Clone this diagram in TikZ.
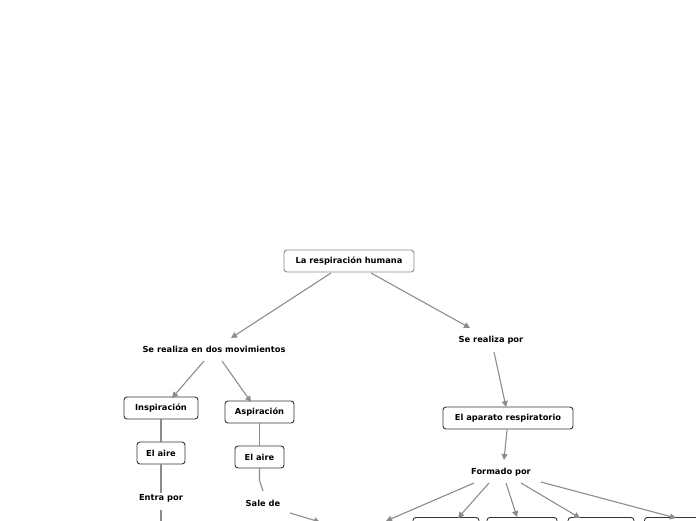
\documentclass[tikz,border=0pt]{standalone}
\usepackage{fontspec}
\setmainfont{DejaVu Sans}
\usetikzlibrary{arrows.meta}
\definecolor{conn}{HTML}{8C8C8C}
\definecolor{boxline}{HTML}{333333}
\tikzset{
  every node/.style={font=\bfseries\fontsize{8.3}{10}\selectfont, text=black},
  box/.style={draw=boxline, line width=0.9pt, rounded corners=3pt, fill=white, inner sep=0pt, minimum height=22pt},
  rootbox/.style={box, draw=conn},
  lbl/.style={inner sep=1pt},
  link/.style={draw=conn, line width=1.1pt},
  arr/.style={link, -{Triangle[length=6pt,width=6pt]}},
}
\begin{document}
\begin{tikzpicture}[x=1pt,y=-1pt]
\useasboundingbox (0,0) rectangle (696,520);
\clip (0,0) rectangle (696,520);
% nodes
\node[rootbox, minimum width=130pt] (root) at (349,261) {La respiración humana};
\node[lbl] (mov) at (214,349) {Se realiza en dos movimientos};
\node[lbl] (por) at (491,340) {Se realiza por};
\node[box, minimum width=74pt] (insp) at (161,408) {Inspiración};
\node[box, minimum width=69pt] (asp) at (259.5,412) {Aspiración};
\node[box, minimum width=48pt] (aire1) at (161,453) {El aire};
\node[box, minimum width=49pt] (aire2) at (259.5,457) {El aire};
\node[lbl] (entra) at (161,498) {Entra por};
\node[lbl] (sale) at (263,503) {Sale de};
\node[box, minimum width=130pt] (apa) at (508,418) {El aparato respiratorio};
\node[lbl] (form) at (501,472) {Formado por};
% bottom boxes (cut off)
\node[box, minimum width=66pt, anchor=north] (b1) at (446,517) {};
\node[box, minimum width=70pt, anchor=north] (b2) at (522,517) {};
\node[box, minimum width=66pt, anchor=north] (b3) at (601,517) {};
\node[box, minimum width=66pt, anchor=north west] (b4) at (644,517) {};
\coordinate (c0) at (386,521);
\coordinate (s0) at (320,522);
\coordinate (e0) at (161,525);
% connectors
\draw[arr] (331,273) -- (231,338);
\draw[arr] (371,273) -- (470,328);
\draw[arr] (204,361) -- (172,398);
\draw[arr] (222,361) -- (251,402);
\draw[link] (insp) -- (aire1);
\draw[link] (aire1) -- (entra);
\draw[link] (161,510) -- (e0);
\draw[link] (asp) -- (aire2);
\draw[link] (aire2.south) -- ++(0,12) -- (263,491);
\draw[arr] (290,513) -- (s0);
\draw[arr] (494,352) -- (506,407);
\draw[arr] (507,430) -- (504,460);
\draw[arr] (474,483) -- (c0);
\draw[arr] (489,483) -- (458,518);
\draw[arr] (506,483) -- (517,517);
\draw[arr] (521,483) -- (580,518);
\draw[arr] (541,482) -- (676,518);
\end{tikzpicture}
\end{document}
